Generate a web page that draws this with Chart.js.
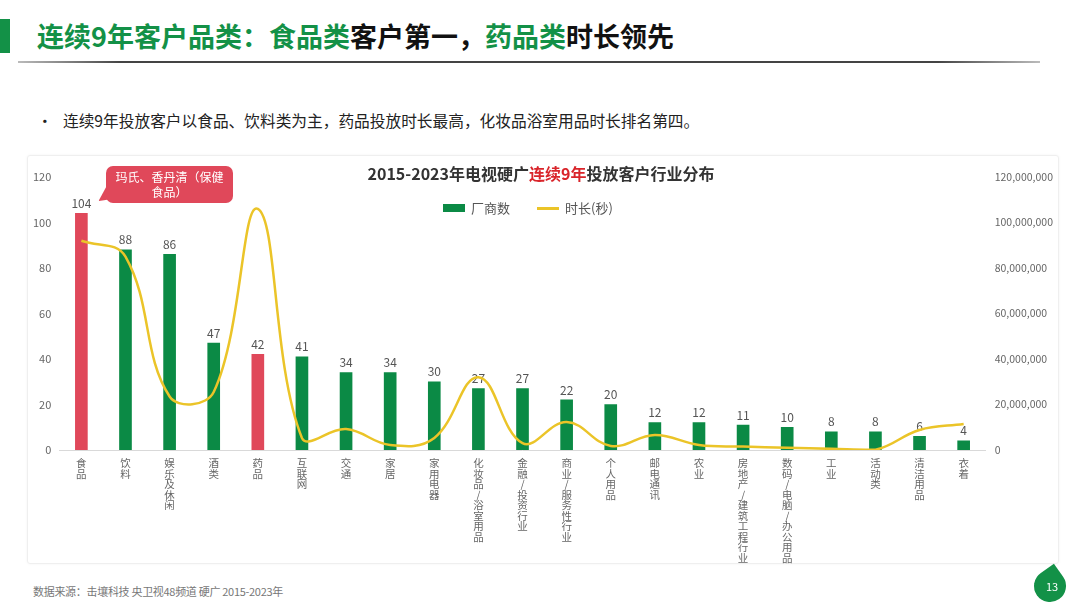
<!DOCTYPE html>
<html><head><meta charset="utf-8">
<script src="https://cdn.jsdelivr.net/npm/chart.js@4.4.0/dist/chart.umd.min.js"></script>
<style>
html,body{margin:0;padding:0;}
body{width:1080px;height:608px;background:#fff;position:relative;overflow:hidden;font-family:"Noto Sans CJK SC","Noto Sans",sans-serif;}
#accent{position:absolute;left:0;top:19px;width:10px;height:34px;background:#139147;}
#pageTitle{position:absolute;left:37px;top:18px;font-size:27px;font-weight:bold;color:#111;line-height:36px;white-space:nowrap;}
#pageTitle .g{color:#139147;}
#rule{position:absolute;left:18px;top:61px;width:1022px;height:2px;background:linear-gradient(90deg,#bbb,#444 10%,#444 90%,#bbb);}
#bullet{position:absolute;left:37px;top:108px;font-size:15.7px;color:#222;line-height:26px;white-space:nowrap;}
#bullet span{display:inline-block;width:26px;}
#card{position:absolute;left:27px;top:155px;width:1030px;height:407px;border:1px solid #efefef;box-shadow:0 0 3px rgba(0,0,0,0.05);border-radius:3px;}
#chartTitle{position:absolute;left:0;width:1082px;text-align:center;top:161px;font-size:16px;font-weight:bold;color:#333;line-height:24px;white-space:nowrap;}
#chartTitle .r{color:#d9252b;}
#legend{position:absolute;left:443px;top:199px;height:18px;font-size:13px;color:#555;line-height:18px;white-space:nowrap;display:flex;align-items:center;}
#legend .item{display:flex;align-items:center;margin-right:27px;}
#legend .sw{display:inline-block;width:22px;margin-right:6px;}
#wrap{position:absolute;left:21px;top:155px;width:1044px;height:416px;}
#callout{position:absolute;left:106px;top:166px;width:127px;height:37px;background:#e0485a;border-radius:7px;color:#fff;font-size:12px;line-height:15px;text-align:center;padding-top:3px;box-sizing:border-box;}
#tail{position:absolute;left:96px;top:186px;width:0;height:0;border-top:7px solid transparent;border-bottom:7px solid transparent;border-right:14px solid #e0485a;transform:rotate(-35deg);transform-origin:right center;}
#source{position:absolute;left:33px;top:583px;font-size:11px;color:#777;white-space:nowrap;letter-spacing:-0.3px;}
#leaf{position:absolute;left:1034px;top:570px;width:32px;height:32px;background:#139147;border-radius:0 50% 50% 50%;transform:rotate(55deg);}
#pnum{position:absolute;left:1034px;top:578px;width:36px;text-align:center;font-size:11px;color:#fff;}
</style></head><body>
<div id="accent"></div>
<div id="pageTitle"><span class="g">连续9年客户品类：食品类</span>客户第一，<span class="g">药品类</span>时长领先</div>
<div id="rule"></div>
<div id="bullet"><span>•</span>连续9年投放客户以食品、饮料类为主，药品投放时长最高，化妆品浴室用品时长排名第四。</div>
<div id="card"></div>
<div id="wrap"><canvas id="c"></canvas></div>
<div id="chartTitle">2015-2023年电视硬广<span class="r">连续9年</span>投放客户行业分布</div>
<div id="legend"></div>
<div id="tail"></div>
<div id="callout">玛氏、香丹清（保健<br>食品）</div>
<div id="source">数据来源：击壤科技 央卫视48频道 硬广 2015-2023年</div>
<div id="leaf"></div>
<div id="pnum">13</div>
<script>
const categories = ['食品','饮料','娱乐及休闲','酒类','药品','互联网','交通','家居','家用电器','化妆品/浴室用品','金融/投资行业','商业/服务性行业','个人用品','邮电通讯','农业','房地产/建筑工程行业','数码/电脑/办公用品','工业','活动类','清洁用品','衣着'];
const advertisers = [104,88,86,47,42,41,34,34,30,27,27,22,20,12,12,11,10,8,8,6,4];
const durationSec = [92000000,85000000,23500000,25500000,106000000,5300000,9200000,2200000,5300000,32000000,3000000,12300000,1800000,6600000,2200000,1500000,1000000,500000,100000,8800000,11400000];
const highlighted = ['食品','药品'];
const leftTicks = {min:0, max:120, step:20};
const rightTicks = {min:0, max:120000000, step:20000000};
const seriesNames = ['厂商数','时长(秒)'];

const GREEN = '#0b8a45', RED = '#e0485a', YELLOW = '#ebc428';
const barColors = categories.map(c => highlighted.includes(c) ? RED : GREEN);

// HTML legend built from the series names
const legendEl = document.getElementById('legend');
legendEl.innerHTML =
  '<span class="item"><span class="sw" style="height:8px;background:'+GREEN+'"></span>'+seriesNames[0]+'</span>' +
  '<span class="item"><span class="sw" style="height:3px;background:'+YELLOW+'"></span>'+seriesNames[1]+'</span>';

const barLabels = {
  id:'barLabels',
  afterDatasetDraw(chart, args){
    if (args.index !== 0) return;
    const ctx = chart.ctx;
    ctx.save();
    ctx.font = '12px "Noto Sans CJK SC", sans-serif';
    ctx.fillStyle = '#555';
    ctx.textAlign = 'center';
    ctx.textBaseline = 'bottom';
    args.meta.data.forEach((bar,i) => ctx.fillText(String(advertisers[i]), bar.x, bar.y - 4));
    ctx.restore();
  }
};

Chart.defaults.font.family = '"Noto Sans CJK SC", "Noto Sans", sans-serif';
new Chart(document.getElementById('c'), {
  data: {
    labels: categories.map(c => Array.from(c)),
    datasets: [
      {type:'bar', label:seriesNames[0], data:advertisers, backgroundColor:barColors, barThickness:12, yAxisID:'y', order:2},
      {type:'line', label:seriesNames[1], data:durationSec, borderColor:YELLOW, backgroundColor:YELLOW, borderWidth:2.5, pointRadius:0, tension:0.4, yAxisID:'y1', order:1}
    ]
  },
  options: {
    responsive:true, maintainAspectRatio:false, animation:false,
    layout:{padding:{top:22, left:4, right:3, bottom:0}},
    plugins:{ tooltip:{enabled:false}, legend:{display:false} },
    scales:{
      x:{
        grid:{display:false, drawTicks:false},
        border:{display:true, color:'#d9d9d9'},
        ticks:{autoSkip:false, maxRotation:0, minRotation:0, padding:8, color:'#666', font:{size:10.5, lineHeight:1.0}}
      },
      y:{
        position:'left', min:leftTicks.min, max:leftTicks.max,
        grid:{display:false, drawTicks:false}, border:{display:false},
        ticks:{stepSize:leftTicks.step, color:'#666', padding:8, font:{size:11}}
      },
      y1:{
        position:'right', min:rightTicks.min, max:rightTicks.max,
        grid:{display:false, drawTicks:false}, border:{display:false},
        ticks:{stepSize:rightTicks.step, color:'#666', padding:9, font:{size:10.5}, callback:v=>Number(v).toLocaleString('en-US')}
      }
    }
  },
  plugins:[barLabels]
});
</script>
</body></html>
